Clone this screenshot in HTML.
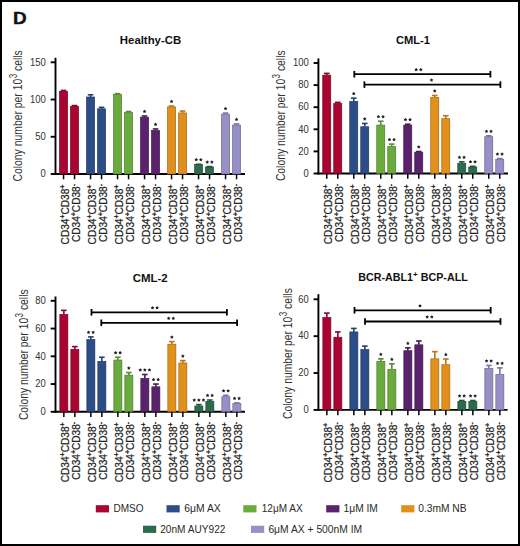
<!DOCTYPE html>
<html><head><meta charset="utf-8"><style>
html,body{margin:0;padding:0;background:#fff;}
svg{display:block;}
</style></head><body>
<svg width="520" height="546" viewBox="0 0 520 546">
<rect x="1" y="1" width="518" height="544" fill="#fff" stroke="#000" stroke-width="2"/>
<text x="0" y="0" transform="translate(13.1,24.3) scale(1.1,1)" font-family='"Liberation Sans", sans-serif' font-weight="bold" font-size="17.2" fill="#111" stroke="#111" stroke-width="0.4">D</text>
<text x="150.5" y="43.6" text-anchor="middle" font-family='"Liberation Sans", sans-serif' font-weight="bold" font-size="11" fill="#111" textLength="61.3" lengthAdjust="spacingAndGlyphs">Healthy-CB</text>
<text transform="translate(21.6,50.2) rotate(-90)" text-anchor="end" font-family='"Liberation Sans", sans-serif' font-size="13.6" fill="#333" textLength="131.3" lengthAdjust="spacingAndGlyphs">Colony number per 10<tspan dy="-4.8" dx="0.6" font-size="10.5">3</tspan><tspan dy="4.8"> cells</tspan></text>
<line x1="55.5" y1="57.8" x2="55.5" y2="174.95" stroke="#000" stroke-width="1.9"/>
<line x1="54.55" y1="174.0" x2="245" y2="174.0" stroke="#000" stroke-width="1.9"/>
<line x1="50.7" y1="174.00" x2="55.5" y2="174.00" stroke="#000" stroke-width="1.9"/>
<text x="45.90" y="177.30" text-anchor="end" font-family='"Liberation Sans", sans-serif' font-size="10.2" fill="#333" transform="translate(45.90,0) scale(0.93,1) translate(-45.90,0)">0</text>
<line x1="50.7" y1="136.77" x2="55.5" y2="136.77" stroke="#000" stroke-width="1.9"/>
<text x="45.90" y="140.07" text-anchor="end" font-family='"Liberation Sans", sans-serif' font-size="10.2" fill="#333" transform="translate(45.90,0) scale(0.93,1) translate(-45.90,0)">50</text>
<line x1="50.7" y1="99.53" x2="55.5" y2="99.53" stroke="#000" stroke-width="1.9"/>
<text x="45.90" y="102.83" text-anchor="end" font-family='"Liberation Sans", sans-serif' font-size="10.2" fill="#333" transform="translate(45.90,0) scale(0.93,1) translate(-45.90,0)">100</text>
<line x1="50.7" y1="62.30" x2="55.5" y2="62.30" stroke="#000" stroke-width="1.9"/>
<text x="45.90" y="65.60" text-anchor="end" font-family='"Liberation Sans", sans-serif' font-size="10.2" fill="#333" transform="translate(45.90,0) scale(0.93,1) translate(-45.90,0)">150</text>
<rect x="59.55" y="91.34" width="8.00" height="82.66" fill="#aa0430" stroke="#7a0222" stroke-width="0.7"/>
<line x1="63.55" y1="91.34" x2="63.55" y2="90.45" stroke="#8b0327" stroke-width="1.6"/>
<line x1="60.75" y1="90.45" x2="66.35" y2="90.45" stroke="#8b0327" stroke-width="1.6"/>
<line x1="63.55" y1="174.0" x2="63.55" y2="179.3" stroke="#000" stroke-width="1.5"/>
<text transform="translate(68.85,184.60) rotate(-90)" text-anchor="end" font-family='"Liberation Sans", sans-serif' font-size="10.1" fill="#222" stroke="#222" stroke-width="0.22">CD34<tspan dy="-3.7" font-size="7" font-weight="bold">+</tspan><tspan dy="3.7">CD38</tspan><tspan dy="-3.7" font-size="7" font-weight="bold">+</tspan></text>
<rect x="70.55" y="106.31" width="8.00" height="67.69" fill="#aa0430" stroke="#7a0222" stroke-width="0.7"/>
<line x1="71.75" y1="105.57" x2="77.35" y2="105.57" stroke="#8b0327" stroke-width="1.6"/>
<line x1="74.55" y1="174.0" x2="74.55" y2="179.3" stroke="#000" stroke-width="1.5"/>
<text transform="translate(79.85,184.00) rotate(-90)" text-anchor="end" font-family='"Liberation Sans", sans-serif' font-size="10.1" fill="#222" stroke="#222" stroke-width="0.22">CD34<tspan dy="-3.7" font-size="7" font-weight="bold">+</tspan><tspan dy="3.7">CD38</tspan><tspan dy="-3.7" font-size="7" font-weight="bold">-</tspan></text>
<rect x="86.55" y="97.00" width="8.00" height="77.00" fill="#2d4d89" stroke="#203762" stroke-width="0.7"/>
<line x1="90.55" y1="97.00" x2="90.55" y2="94.77" stroke="#243f70" stroke-width="1.6"/>
<line x1="87.75" y1="94.77" x2="93.35" y2="94.77" stroke="#243f70" stroke-width="1.6"/>
<line x1="90.55" y1="174.0" x2="90.55" y2="179.3" stroke="#000" stroke-width="1.5"/>
<text transform="translate(95.85,184.60) rotate(-90)" text-anchor="end" font-family='"Liberation Sans", sans-serif' font-size="10.1" fill="#222" stroke="#222" stroke-width="0.22">CD34<tspan dy="-3.7" font-size="7" font-weight="bold">+</tspan><tspan dy="3.7">CD38</tspan><tspan dy="-3.7" font-size="7" font-weight="bold">+</tspan></text>
<rect x="97.55" y="108.84" width="8.00" height="65.16" fill="#2d4d89" stroke="#203762" stroke-width="0.7"/>
<line x1="101.55" y1="108.84" x2="101.55" y2="107.35" stroke="#243f70" stroke-width="1.6"/>
<line x1="98.75" y1="107.35" x2="104.35" y2="107.35" stroke="#243f70" stroke-width="1.6"/>
<line x1="101.55" y1="174.0" x2="101.55" y2="179.3" stroke="#000" stroke-width="1.5"/>
<text transform="translate(106.85,184.00) rotate(-90)" text-anchor="end" font-family='"Liberation Sans", sans-serif' font-size="10.1" fill="#222" stroke="#222" stroke-width="0.22">CD34<tspan dy="-3.7" font-size="7" font-weight="bold">+</tspan><tspan dy="3.7">CD38</tspan><tspan dy="-3.7" font-size="7" font-weight="bold">-</tspan></text>
<rect x="113.55" y="94.40" width="8.00" height="79.60" fill="#6aab3e" stroke="#4c7b2c" stroke-width="0.7"/>
<line x1="114.75" y1="93.65" x2="120.35" y2="93.65" stroke="#568c32" stroke-width="1.6"/>
<line x1="117.55" y1="174.0" x2="117.55" y2="179.3" stroke="#000" stroke-width="1.5"/>
<text transform="translate(122.85,184.60) rotate(-90)" text-anchor="end" font-family='"Liberation Sans", sans-serif' font-size="10.1" fill="#222" stroke="#222" stroke-width="0.22">CD34<tspan dy="-3.7" font-size="7" font-weight="bold">+</tspan><tspan dy="3.7">CD38</tspan><tspan dy="-3.7" font-size="7" font-weight="bold">+</tspan></text>
<rect x="124.55" y="112.64" width="8.00" height="61.36" fill="#6aab3e" stroke="#4c7b2c" stroke-width="0.7"/>
<line x1="128.55" y1="112.64" x2="128.55" y2="111.52" stroke="#568c32" stroke-width="1.6"/>
<line x1="125.75" y1="111.52" x2="131.35" y2="111.52" stroke="#568c32" stroke-width="1.6"/>
<line x1="128.55" y1="174.0" x2="128.55" y2="179.3" stroke="#000" stroke-width="1.5"/>
<text transform="translate(133.85,184.00) rotate(-90)" text-anchor="end" font-family='"Liberation Sans", sans-serif' font-size="10.1" fill="#222" stroke="#222" stroke-width="0.22">CD34<tspan dy="-3.7" font-size="7" font-weight="bold">+</tspan><tspan dy="3.7">CD38</tspan><tspan dy="-3.7" font-size="7" font-weight="bold">-</tspan></text>
<rect x="140.55" y="117.18" width="8.00" height="56.82" fill="#5a216c" stroke="#40174d" stroke-width="0.7"/>
<line x1="144.55" y1="117.18" x2="144.55" y2="115.99" stroke="#491b58" stroke-width="1.6"/>
<line x1="141.75" y1="115.99" x2="147.35" y2="115.99" stroke="#491b58" stroke-width="1.6"/>
<line x1="144.55" y1="174.0" x2="144.55" y2="179.3" stroke="#000" stroke-width="1.5"/>
<text transform="translate(149.85,184.60) rotate(-90)" text-anchor="end" font-family='"Liberation Sans", sans-serif' font-size="10.1" fill="#222" stroke="#222" stroke-width="0.22">CD34<tspan dy="-3.7" font-size="7" font-weight="bold">+</tspan><tspan dy="3.7">CD38</tspan><tspan dy="-3.7" font-size="7" font-weight="bold">+</tspan></text>
<polygon points="144.55,109.64 145.20,110.59 146.31,110.92 145.61,111.83 145.64,112.99 144.55,112.60 143.46,112.99 143.49,111.83 142.79,110.92 143.90,110.59" fill="#222"/>
<rect x="151.55" y="130.44" width="8.00" height="43.56" fill="#5a216c" stroke="#40174d" stroke-width="0.7"/>
<line x1="155.55" y1="130.44" x2="155.55" y2="128.95" stroke="#491b58" stroke-width="1.6"/>
<line x1="152.75" y1="128.95" x2="158.35" y2="128.95" stroke="#491b58" stroke-width="1.6"/>
<line x1="155.55" y1="174.0" x2="155.55" y2="179.3" stroke="#000" stroke-width="1.5"/>
<text transform="translate(160.85,184.00) rotate(-90)" text-anchor="end" font-family='"Liberation Sans", sans-serif' font-size="10.1" fill="#222" stroke="#222" stroke-width="0.22">CD34<tspan dy="-3.7" font-size="7" font-weight="bold">+</tspan><tspan dy="3.7">CD38</tspan><tspan dy="-3.7" font-size="7" font-weight="bold">-</tspan></text>
<polygon points="155.55,122.60 156.20,123.55 157.31,123.88 156.61,124.79 156.64,125.94 155.55,125.56 154.46,125.94 154.49,124.79 153.79,123.88 154.90,123.55" fill="#222"/>
<rect x="167.55" y="106.91" width="8.00" height="67.09" fill="#e2901c" stroke="#a26714" stroke-width="0.7"/>
<line x1="171.55" y1="106.91" x2="171.55" y2="106.01" stroke="#b97616" stroke-width="1.6"/>
<line x1="168.75" y1="106.01" x2="174.35" y2="106.01" stroke="#b97616" stroke-width="1.6"/>
<line x1="171.55" y1="174.0" x2="171.55" y2="179.3" stroke="#000" stroke-width="1.5"/>
<text transform="translate(176.85,184.60) rotate(-90)" text-anchor="end" font-family='"Liberation Sans", sans-serif' font-size="10.1" fill="#222" stroke="#222" stroke-width="0.22">CD34<tspan dy="-3.7" font-size="7" font-weight="bold">+</tspan><tspan dy="3.7">CD38</tspan><tspan dy="-3.7" font-size="7" font-weight="bold">+</tspan></text>
<polygon points="171.55,99.66 172.20,100.61 173.31,100.94 172.61,101.85 172.64,103.01 171.55,102.62 170.46,103.01 170.49,101.85 169.79,100.94 170.90,100.61" fill="#222"/>
<rect x="178.55" y="112.94" width="8.00" height="61.06" fill="#e2901c" stroke="#a26714" stroke-width="0.7"/>
<line x1="182.55" y1="112.94" x2="182.55" y2="111.08" stroke="#b97616" stroke-width="1.6"/>
<line x1="179.75" y1="111.08" x2="185.35" y2="111.08" stroke="#b97616" stroke-width="1.6"/>
<line x1="182.55" y1="174.0" x2="182.55" y2="179.3" stroke="#000" stroke-width="1.5"/>
<text transform="translate(187.85,184.00) rotate(-90)" text-anchor="end" font-family='"Liberation Sans", sans-serif' font-size="10.1" fill="#222" stroke="#222" stroke-width="0.22">CD34<tspan dy="-3.7" font-size="7" font-weight="bold">+</tspan><tspan dy="3.7">CD38</tspan><tspan dy="-3.7" font-size="7" font-weight="bold">-</tspan></text>
<rect x="194.55" y="164.62" width="8.00" height="9.38" fill="#2d6b4f" stroke="#204d38" stroke-width="0.7"/>
<line x1="195.75" y1="164.24" x2="201.35" y2="164.24" stroke="#245740" stroke-width="1.6"/>
<line x1="198.55" y1="174.0" x2="198.55" y2="179.3" stroke="#000" stroke-width="1.5"/>
<text transform="translate(203.85,184.60) rotate(-90)" text-anchor="end" font-family='"Liberation Sans", sans-serif' font-size="10.1" fill="#222" stroke="#222" stroke-width="0.22">CD34<tspan dy="-3.7" font-size="7" font-weight="bold">+</tspan><tspan dy="3.7">CD38</tspan><tspan dy="-3.7" font-size="7" font-weight="bold">+</tspan></text>
<polygon points="196.25,157.89 196.90,158.85 198.01,159.17 197.31,160.09 197.34,161.24 196.25,160.85 195.16,161.24 195.19,160.09 194.49,159.17 195.60,158.85" fill="#222"/><polygon points="200.85,157.89 201.50,158.85 202.61,159.17 201.91,160.09 201.94,161.24 200.85,160.85 199.76,161.24 199.79,160.09 199.09,159.17 200.20,158.85" fill="#222"/>
<rect x="205.55" y="166.93" width="8.00" height="7.07" fill="#2d6b4f" stroke="#204d38" stroke-width="0.7"/>
<line x1="206.75" y1="166.55" x2="212.35" y2="166.55" stroke="#245740" stroke-width="1.6"/>
<line x1="209.55" y1="174.0" x2="209.55" y2="179.3" stroke="#000" stroke-width="1.5"/>
<text transform="translate(214.85,184.00) rotate(-90)" text-anchor="end" font-family='"Liberation Sans", sans-serif' font-size="10.1" fill="#222" stroke="#222" stroke-width="0.22">CD34<tspan dy="-3.7" font-size="7" font-weight="bold">+</tspan><tspan dy="3.7">CD38</tspan><tspan dy="-3.7" font-size="7" font-weight="bold">-</tspan></text>
<polygon points="207.25,160.20 207.90,161.16 209.01,161.48 208.31,162.40 208.34,163.55 207.25,163.16 206.16,163.55 206.19,162.40 205.49,161.48 206.60,161.16" fill="#222"/><polygon points="211.85,160.20 212.50,161.16 213.61,161.48 212.91,162.40 212.94,163.55 211.85,163.16 210.76,163.55 210.79,162.40 210.09,161.48 211.20,161.16" fill="#222"/>
<rect x="221.55" y="114.20" width="8.00" height="59.80" fill="#9790c6" stroke="#6c678e" stroke-width="0.7"/>
<line x1="225.55" y1="114.20" x2="225.55" y2="113.09" stroke="#7b76a2" stroke-width="1.6"/>
<line x1="222.75" y1="113.09" x2="228.35" y2="113.09" stroke="#7b76a2" stroke-width="1.6"/>
<line x1="225.55" y1="174.0" x2="225.55" y2="179.3" stroke="#000" stroke-width="1.5"/>
<text transform="translate(230.85,184.60) rotate(-90)" text-anchor="end" font-family='"Liberation Sans", sans-serif' font-size="10.1" fill="#222" stroke="#222" stroke-width="0.22">CD34<tspan dy="-3.7" font-size="7" font-weight="bold">+</tspan><tspan dy="3.7">CD38</tspan><tspan dy="-3.7" font-size="7" font-weight="bold">+</tspan></text>
<polygon points="225.55,106.74 226.20,107.69 227.31,108.01 226.61,108.93 226.64,110.08 225.55,109.70 224.46,110.08 224.49,108.93 223.79,108.01 224.90,107.69" fill="#222"/>
<rect x="232.55" y="125.08" width="8.00" height="48.92" fill="#9790c6" stroke="#6c678e" stroke-width="0.7"/>
<line x1="236.55" y1="125.08" x2="236.55" y2="123.96" stroke="#7b76a2" stroke-width="1.6"/>
<line x1="233.75" y1="123.96" x2="239.35" y2="123.96" stroke="#7b76a2" stroke-width="1.6"/>
<line x1="236.55" y1="174.0" x2="236.55" y2="179.3" stroke="#000" stroke-width="1.5"/>
<text transform="translate(241.85,184.00) rotate(-90)" text-anchor="end" font-family='"Liberation Sans", sans-serif' font-size="10.1" fill="#222" stroke="#222" stroke-width="0.22">CD34<tspan dy="-3.7" font-size="7" font-weight="bold">+</tspan><tspan dy="3.7">CD38</tspan><tspan dy="-3.7" font-size="7" font-weight="bold">-</tspan></text>
<polygon points="236.55,117.61 237.20,118.56 238.31,118.89 237.61,119.80 237.64,120.96 236.55,120.57 235.46,120.96 235.49,119.80 234.79,118.89 235.90,118.56" fill="#222"/>
<text x="413" y="43.8" text-anchor="middle" font-family='"Liberation Sans", sans-serif' font-weight="bold" font-size="11" fill="#111" textLength="34.099999999999994" lengthAdjust="spacingAndGlyphs">CML-1</text>
<text transform="translate(284.6,50.4) rotate(-90)" text-anchor="end" font-family='"Liberation Sans", sans-serif' font-size="13.6" fill="#333" textLength="130.7" lengthAdjust="spacingAndGlyphs">Colony number per 10<tspan dy="-4.8" dx="0.6" font-size="10.5">3</tspan><tspan dy="4.8"> cells</tspan></text>
<line x1="318.4" y1="58.4" x2="318.4" y2="174.45" stroke="#000" stroke-width="1.9"/>
<line x1="317.45" y1="173.5" x2="508" y2="173.5" stroke="#000" stroke-width="1.9"/>
<line x1="313.59999999999997" y1="173.50" x2="318.4" y2="173.50" stroke="#000" stroke-width="1.9"/>
<text x="308.80" y="176.80" text-anchor="end" font-family='"Liberation Sans", sans-serif' font-size="10.2" fill="#333" transform="translate(308.80,0) scale(0.93,1) translate(-308.80,0)">0</text>
<line x1="313.59999999999997" y1="151.40" x2="318.4" y2="151.40" stroke="#000" stroke-width="1.9"/>
<text x="308.80" y="154.70" text-anchor="end" font-family='"Liberation Sans", sans-serif' font-size="10.2" fill="#333" transform="translate(308.80,0) scale(0.93,1) translate(-308.80,0)">20</text>
<line x1="313.59999999999997" y1="129.30" x2="318.4" y2="129.30" stroke="#000" stroke-width="1.9"/>
<text x="308.80" y="132.60" text-anchor="end" font-family='"Liberation Sans", sans-serif' font-size="10.2" fill="#333" transform="translate(308.80,0) scale(0.93,1) translate(-308.80,0)">40</text>
<line x1="313.59999999999997" y1="107.20" x2="318.4" y2="107.20" stroke="#000" stroke-width="1.9"/>
<text x="308.80" y="110.50" text-anchor="end" font-family='"Liberation Sans", sans-serif' font-size="10.2" fill="#333" transform="translate(308.80,0) scale(0.93,1) translate(-308.80,0)">60</text>
<line x1="313.59999999999997" y1="85.10" x2="318.4" y2="85.10" stroke="#000" stroke-width="1.9"/>
<text x="308.80" y="88.40" text-anchor="end" font-family='"Liberation Sans", sans-serif' font-size="10.2" fill="#333" transform="translate(308.80,0) scale(0.93,1) translate(-308.80,0)">80</text>
<line x1="313.59999999999997" y1="63.00" x2="318.4" y2="63.00" stroke="#000" stroke-width="1.9"/>
<text x="308.80" y="66.30" text-anchor="end" font-family='"Liberation Sans", sans-serif' font-size="10.2" fill="#333" transform="translate(308.80,0) scale(0.93,1) translate(-308.80,0)">100</text>
<rect x="322.75" y="75.16" width="8.00" height="98.34" fill="#aa0430" stroke="#7a0222" stroke-width="0.7"/>
<line x1="326.75" y1="75.16" x2="326.75" y2="73.39" stroke="#8b0327" stroke-width="1.6"/>
<line x1="323.95" y1="73.39" x2="329.55" y2="73.39" stroke="#8b0327" stroke-width="1.6"/>
<line x1="326.75" y1="173.5" x2="326.75" y2="178.8" stroke="#000" stroke-width="1.5"/>
<text transform="translate(332.05,184.50) rotate(-90)" text-anchor="end" font-family='"Liberation Sans", sans-serif' font-size="10.1" fill="#222" stroke="#222" stroke-width="0.22">CD34<tspan dy="-3.7" font-size="7" font-weight="bold">+</tspan><tspan dy="3.7">CD38</tspan><tspan dy="-3.7" font-size="7" font-weight="bold">+</tspan></text>
<rect x="333.75" y="103.44" width="8.00" height="70.06" fill="#aa0430" stroke="#7a0222" stroke-width="0.7"/>
<line x1="337.75" y1="103.44" x2="337.75" y2="102.34" stroke="#8b0327" stroke-width="1.6"/>
<line x1="334.95" y1="102.34" x2="340.55" y2="102.34" stroke="#8b0327" stroke-width="1.6"/>
<line x1="337.75" y1="173.5" x2="337.75" y2="178.8" stroke="#000" stroke-width="1.5"/>
<text transform="translate(343.05,183.90) rotate(-90)" text-anchor="end" font-family='"Liberation Sans", sans-serif' font-size="10.1" fill="#222" stroke="#222" stroke-width="0.22">CD34<tspan dy="-3.7" font-size="7" font-weight="bold">+</tspan><tspan dy="3.7">CD38</tspan><tspan dy="-3.7" font-size="7" font-weight="bold">-</tspan></text>
<rect x="349.75" y="101.45" width="8.00" height="72.05" fill="#2d4d89" stroke="#203762" stroke-width="0.7"/>
<line x1="353.75" y1="101.45" x2="353.75" y2="98.14" stroke="#243f70" stroke-width="1.6"/>
<line x1="350.95" y1="98.14" x2="356.55" y2="98.14" stroke="#243f70" stroke-width="1.6"/>
<line x1="353.75" y1="173.5" x2="353.75" y2="178.8" stroke="#000" stroke-width="1.5"/>
<text transform="translate(359.05,184.50) rotate(-90)" text-anchor="end" font-family='"Liberation Sans", sans-serif' font-size="10.1" fill="#222" stroke="#222" stroke-width="0.22">CD34<tspan dy="-3.7" font-size="7" font-weight="bold">+</tspan><tspan dy="3.7">CD38</tspan><tspan dy="-3.7" font-size="7" font-weight="bold">+</tspan></text>
<polygon points="353.75,91.79 354.40,92.74 355.51,93.07 354.81,93.98 354.84,95.14 353.75,94.75 352.66,95.14 352.69,93.98 351.99,93.07 353.10,92.74" fill="#222"/>
<rect x="360.75" y="126.76" width="8.00" height="46.74" fill="#2d4d89" stroke="#203762" stroke-width="0.7"/>
<line x1="364.75" y1="126.76" x2="364.75" y2="123.44" stroke="#243f70" stroke-width="1.6"/>
<line x1="361.95" y1="123.44" x2="367.55" y2="123.44" stroke="#243f70" stroke-width="1.6"/>
<line x1="364.75" y1="173.5" x2="364.75" y2="178.8" stroke="#000" stroke-width="1.5"/>
<text transform="translate(370.05,183.90) rotate(-90)" text-anchor="end" font-family='"Liberation Sans", sans-serif' font-size="10.1" fill="#222" stroke="#222" stroke-width="0.22">CD34<tspan dy="-3.7" font-size="7" font-weight="bold">+</tspan><tspan dy="3.7">CD38</tspan><tspan dy="-3.7" font-size="7" font-weight="bold">-</tspan></text>
<polygon points="364.75,117.09 365.40,118.05 366.51,118.37 365.81,119.29 365.84,120.44 364.75,120.05 363.66,120.44 363.69,119.29 362.99,118.37 364.10,118.05" fill="#222"/>
<rect x="376.75" y="125.10" width="8.00" height="48.40" fill="#6aab3e" stroke="#4c7b2c" stroke-width="0.7"/>
<line x1="380.75" y1="125.10" x2="380.75" y2="121.23" stroke="#568c32" stroke-width="1.6"/>
<line x1="377.95" y1="121.23" x2="383.55" y2="121.23" stroke="#568c32" stroke-width="1.6"/>
<line x1="380.75" y1="173.5" x2="380.75" y2="178.8" stroke="#000" stroke-width="1.5"/>
<text transform="translate(386.05,184.50) rotate(-90)" text-anchor="end" font-family='"Liberation Sans", sans-serif' font-size="10.1" fill="#222" stroke="#222" stroke-width="0.22">CD34<tspan dy="-3.7" font-size="7" font-weight="bold">+</tspan><tspan dy="3.7">CD38</tspan><tspan dy="-3.7" font-size="7" font-weight="bold">+</tspan></text>
<polygon points="378.45,114.88 379.10,115.84 380.21,116.16 379.51,117.08 379.54,118.23 378.45,117.84 377.36,118.23 377.39,117.08 376.69,116.16 377.80,115.84" fill="#222"/><polygon points="383.05,114.88 383.70,115.84 384.81,116.16 384.11,117.08 384.14,118.23 383.05,117.84 381.96,118.23 381.99,117.08 381.29,116.16 382.40,115.84" fill="#222"/>
<rect x="387.75" y="146.65" width="8.00" height="26.85" fill="#6aab3e" stroke="#4c7b2c" stroke-width="0.7"/>
<line x1="391.75" y1="146.65" x2="391.75" y2="144.11" stroke="#568c32" stroke-width="1.6"/>
<line x1="388.95" y1="144.11" x2="394.55" y2="144.11" stroke="#568c32" stroke-width="1.6"/>
<line x1="391.75" y1="173.5" x2="391.75" y2="178.8" stroke="#000" stroke-width="1.5"/>
<text transform="translate(397.05,183.90) rotate(-90)" text-anchor="end" font-family='"Liberation Sans", sans-serif' font-size="10.1" fill="#222" stroke="#222" stroke-width="0.22">CD34<tspan dy="-3.7" font-size="7" font-weight="bold">+</tspan><tspan dy="3.7">CD38</tspan><tspan dy="-3.7" font-size="7" font-weight="bold">-</tspan></text>
<polygon points="389.45,137.76 390.10,138.71 391.21,139.04 390.51,139.95 390.54,141.10 389.45,140.72 388.36,141.10 388.39,139.95 387.69,139.04 388.80,138.71" fill="#222"/><polygon points="394.05,137.76 394.70,138.71 395.81,139.04 395.11,139.95 395.14,141.10 394.05,140.72 392.96,141.10 392.99,139.95 392.29,139.04 393.40,138.71" fill="#222"/>
<rect x="403.75" y="125.10" width="8.00" height="48.40" fill="#5a216c" stroke="#40174d" stroke-width="0.7"/>
<line x1="407.75" y1="125.10" x2="407.75" y2="124.22" stroke="#491b58" stroke-width="1.6"/>
<line x1="404.95" y1="124.22" x2="410.55" y2="124.22" stroke="#491b58" stroke-width="1.6"/>
<line x1="407.75" y1="173.5" x2="407.75" y2="178.8" stroke="#000" stroke-width="1.5"/>
<text transform="translate(413.05,184.50) rotate(-90)" text-anchor="end" font-family='"Liberation Sans", sans-serif' font-size="10.1" fill="#222" stroke="#222" stroke-width="0.22">CD34<tspan dy="-3.7" font-size="7" font-weight="bold">+</tspan><tspan dy="3.7">CD38</tspan><tspan dy="-3.7" font-size="7" font-weight="bold">+</tspan></text>
<polygon points="405.45,117.87 406.10,118.82 407.21,119.15 406.51,120.06 406.54,121.21 405.45,120.83 404.36,121.21 404.39,120.06 403.69,119.15 404.80,118.82" fill="#222"/><polygon points="410.05,117.87 410.70,118.82 411.81,119.15 411.11,120.06 411.14,121.21 410.05,120.83 408.96,121.21 408.99,120.06 408.29,119.15 409.40,118.82" fill="#222"/>
<rect x="414.75" y="152.17" width="8.00" height="21.33" fill="#5a216c" stroke="#40174d" stroke-width="0.7"/>
<line x1="415.95" y1="151.51" x2="421.55" y2="151.51" stroke="#491b58" stroke-width="1.6"/>
<line x1="418.75" y1="173.5" x2="418.75" y2="178.8" stroke="#000" stroke-width="1.5"/>
<text transform="translate(424.05,183.90) rotate(-90)" text-anchor="end" font-family='"Liberation Sans", sans-serif' font-size="10.1" fill="#222" stroke="#222" stroke-width="0.22">CD34<tspan dy="-3.7" font-size="7" font-weight="bold">+</tspan><tspan dy="3.7">CD38</tspan><tspan dy="-3.7" font-size="7" font-weight="bold">-</tspan></text>
<polygon points="418.75,145.16 419.40,146.11 420.51,146.44 419.81,147.35 419.84,148.51 418.75,148.12 417.66,148.51 417.69,147.35 416.99,146.44 418.10,146.11" fill="#222"/>
<rect x="430.75" y="97.48" width="8.00" height="76.02" fill="#e2901c" stroke="#a26714" stroke-width="0.7"/>
<line x1="434.75" y1="97.48" x2="434.75" y2="95.49" stroke="#b97616" stroke-width="1.6"/>
<line x1="431.95" y1="95.49" x2="437.55" y2="95.49" stroke="#b97616" stroke-width="1.6"/>
<line x1="434.75" y1="173.5" x2="434.75" y2="178.8" stroke="#000" stroke-width="1.5"/>
<text transform="translate(440.05,184.50) rotate(-90)" text-anchor="end" font-family='"Liberation Sans", sans-serif' font-size="10.1" fill="#222" stroke="#222" stroke-width="0.22">CD34<tspan dy="-3.7" font-size="7" font-weight="bold">+</tspan><tspan dy="3.7">CD38</tspan><tspan dy="-3.7" font-size="7" font-weight="bold">+</tspan></text>
<polygon points="434.75,89.14 435.40,90.09 436.51,90.42 435.81,91.33 435.84,92.48 434.75,92.10 433.66,92.48 433.69,91.33 432.99,90.42 434.10,90.09" fill="#222"/>
<rect x="441.75" y="118.69" width="8.00" height="54.81" fill="#e2901c" stroke="#a26714" stroke-width="0.7"/>
<line x1="445.75" y1="118.69" x2="445.75" y2="115.71" stroke="#b97616" stroke-width="1.6"/>
<line x1="442.95" y1="115.71" x2="448.55" y2="115.71" stroke="#b97616" stroke-width="1.6"/>
<line x1="445.75" y1="173.5" x2="445.75" y2="178.8" stroke="#000" stroke-width="1.5"/>
<text transform="translate(451.05,183.90) rotate(-90)" text-anchor="end" font-family='"Liberation Sans", sans-serif' font-size="10.1" fill="#222" stroke="#222" stroke-width="0.22">CD34<tspan dy="-3.7" font-size="7" font-weight="bold">+</tspan><tspan dy="3.7">CD38</tspan><tspan dy="-3.7" font-size="7" font-weight="bold">-</tspan></text>
<rect x="457.75" y="163.22" width="8.00" height="10.28" fill="#2d6b4f" stroke="#204d38" stroke-width="0.7"/>
<line x1="461.75" y1="163.22" x2="461.75" y2="161.79" stroke="#245740" stroke-width="1.6"/>
<line x1="458.95" y1="161.79" x2="464.55" y2="161.79" stroke="#245740" stroke-width="1.6"/>
<line x1="461.75" y1="173.5" x2="461.75" y2="178.8" stroke="#000" stroke-width="1.5"/>
<text transform="translate(467.05,184.50) rotate(-90)" text-anchor="end" font-family='"Liberation Sans", sans-serif' font-size="10.1" fill="#222" stroke="#222" stroke-width="0.22">CD34<tspan dy="-3.7" font-size="7" font-weight="bold">+</tspan><tspan dy="3.7">CD38</tspan><tspan dy="-3.7" font-size="7" font-weight="bold">+</tspan></text>
<polygon points="459.45,155.44 460.10,156.39 461.21,156.72 460.51,157.63 460.54,158.78 459.45,158.40 458.36,158.78 458.39,157.63 457.69,156.72 458.80,156.39" fill="#222"/><polygon points="464.05,155.44 464.70,156.39 465.81,156.72 465.11,157.63 465.14,158.78 464.05,158.40 462.96,158.78 462.99,157.63 462.29,156.72 463.40,156.39" fill="#222"/>
<rect x="468.75" y="166.98" width="8.00" height="6.52" fill="#2d6b4f" stroke="#204d38" stroke-width="0.7"/>
<line x1="469.95" y1="166.32" x2="475.55" y2="166.32" stroke="#245740" stroke-width="1.6"/>
<line x1="472.75" y1="173.5" x2="472.75" y2="178.8" stroke="#000" stroke-width="1.5"/>
<text transform="translate(478.05,183.90) rotate(-90)" text-anchor="end" font-family='"Liberation Sans", sans-serif' font-size="10.1" fill="#222" stroke="#222" stroke-width="0.22">CD34<tspan dy="-3.7" font-size="7" font-weight="bold">+</tspan><tspan dy="3.7">CD38</tspan><tspan dy="-3.7" font-size="7" font-weight="bold">-</tspan></text>
<polygon points="470.45,159.97 471.10,160.92 472.21,161.25 471.51,162.16 471.54,163.31 470.45,162.93 469.36,163.31 469.39,162.16 468.69,161.25 469.80,160.92" fill="#222"/><polygon points="475.05,159.97 475.70,160.92 476.81,161.25 476.11,162.16 476.14,163.31 475.05,162.93 473.96,163.31 473.99,162.16 473.29,161.25 474.40,160.92" fill="#222"/>
<rect x="484.75" y="136.70" width="8.00" height="36.80" fill="#9790c6" stroke="#6c678e" stroke-width="0.7"/>
<line x1="488.75" y1="136.70" x2="488.75" y2="135.82" stroke="#7b76a2" stroke-width="1.6"/>
<line x1="485.95" y1="135.82" x2="491.55" y2="135.82" stroke="#7b76a2" stroke-width="1.6"/>
<line x1="488.75" y1="173.5" x2="488.75" y2="178.8" stroke="#000" stroke-width="1.5"/>
<text transform="translate(494.05,184.50) rotate(-90)" text-anchor="end" font-family='"Liberation Sans", sans-serif' font-size="10.1" fill="#222" stroke="#222" stroke-width="0.22">CD34<tspan dy="-3.7" font-size="7" font-weight="bold">+</tspan><tspan dy="3.7">CD38</tspan><tspan dy="-3.7" font-size="7" font-weight="bold">+</tspan></text>
<polygon points="486.45,129.47 487.10,130.42 488.21,130.75 487.51,131.66 487.54,132.82 486.45,132.43 485.36,132.82 485.39,131.66 484.69,130.75 485.80,130.42" fill="#222"/><polygon points="491.05,129.47 491.70,130.42 492.81,130.75 492.11,131.66 492.14,132.82 491.05,132.43 489.96,132.82 489.99,131.66 489.29,130.75 490.40,130.42" fill="#222"/>
<rect x="495.75" y="159.25" width="8.00" height="14.25" fill="#9790c6" stroke="#6c678e" stroke-width="0.7"/>
<line x1="496.95" y1="158.58" x2="502.55" y2="158.58" stroke="#7b76a2" stroke-width="1.6"/>
<line x1="499.75" y1="173.5" x2="499.75" y2="178.8" stroke="#000" stroke-width="1.5"/>
<text transform="translate(505.05,183.90) rotate(-90)" text-anchor="end" font-family='"Liberation Sans", sans-serif' font-size="10.1" fill="#222" stroke="#222" stroke-width="0.22">CD34<tspan dy="-3.7" font-size="7" font-weight="bold">+</tspan><tspan dy="3.7">CD38</tspan><tspan dy="-3.7" font-size="7" font-weight="bold">-</tspan></text>
<polygon points="497.45,152.23 498.10,153.18 499.21,153.51 498.51,154.43 498.54,155.58 497.45,155.19 496.36,155.58 496.39,154.43 495.69,153.51 496.80,153.18" fill="#222"/><polygon points="502.05,152.23 502.70,153.18 503.81,153.51 503.11,154.43 503.14,155.58 502.05,155.19 500.96,155.58 500.99,154.43 500.29,153.51 501.40,153.18" fill="#222"/>
<line x1="354.3" y1="74.2" x2="490.4" y2="74.2" stroke="#000" stroke-width="1.8"/>
<line x1="354.3" y1="70.9" x2="354.3" y2="77.5" stroke="#000" stroke-width="1.8"/>
<line x1="490.4" y1="70.9" x2="490.4" y2="77.5" stroke="#000" stroke-width="1.8"/>
<polygon points="416.20,67.85 416.85,68.80 417.96,69.13 417.26,70.04 417.29,71.20 416.20,70.81 415.11,71.20 415.14,70.04 414.44,69.13 415.55,68.80" fill="#222"/><polygon points="420.80,67.85 421.45,68.80 422.56,69.13 421.86,70.04 421.89,71.20 420.80,70.81 419.71,71.20 419.74,70.04 419.04,69.13 420.15,68.80" fill="#222"/>
<line x1="364.4" y1="84.6" x2="500.4" y2="84.6" stroke="#000" stroke-width="1.8"/>
<line x1="364.4" y1="81.3" x2="364.4" y2="87.89999999999999" stroke="#000" stroke-width="1.8"/>
<line x1="500.4" y1="81.3" x2="500.4" y2="87.89999999999999" stroke="#000" stroke-width="1.8"/>
<polygon points="431.50,78.25 432.15,79.20 433.26,79.53 432.56,80.44 432.59,81.60 431.50,81.21 430.41,81.60 430.44,80.44 429.74,79.53 430.85,79.20" fill="#222"/>
<text x="150.2" y="281.8" text-anchor="middle" font-family='"Liberation Sans", sans-serif' font-weight="bold" font-size="11" fill="#111" textLength="35.0" lengthAdjust="spacingAndGlyphs">CML-2</text>
<text transform="translate(27.6,289.4) rotate(-90)" text-anchor="end" font-family='"Liberation Sans", sans-serif' font-size="13.6" fill="#333" textLength="130.7" lengthAdjust="spacingAndGlyphs">Colony number per 10<tspan dy="-4.8" dx="0.6" font-size="10.5">3</tspan><tspan dy="4.8"> cells</tspan></text>
<line x1="55.5" y1="296.5" x2="55.5" y2="412.75" stroke="#000" stroke-width="1.9"/>
<line x1="54.55" y1="411.8" x2="245" y2="411.8" stroke="#000" stroke-width="1.9"/>
<line x1="50.7" y1="411.80" x2="55.5" y2="411.80" stroke="#000" stroke-width="1.9"/>
<text x="45.90" y="415.10" text-anchor="end" font-family='"Liberation Sans", sans-serif' font-size="10.2" fill="#333" transform="translate(45.90,0) scale(0.93,1) translate(-45.90,0)">0</text>
<line x1="50.7" y1="384.05" x2="55.5" y2="384.05" stroke="#000" stroke-width="1.9"/>
<text x="45.90" y="387.35" text-anchor="end" font-family='"Liberation Sans", sans-serif' font-size="10.2" fill="#333" transform="translate(45.90,0) scale(0.93,1) translate(-45.90,0)">20</text>
<line x1="50.7" y1="356.30" x2="55.5" y2="356.30" stroke="#000" stroke-width="1.9"/>
<text x="45.90" y="359.60" text-anchor="end" font-family='"Liberation Sans", sans-serif' font-size="10.2" fill="#333" transform="translate(45.90,0) scale(0.93,1) translate(-45.90,0)">40</text>
<line x1="50.7" y1="328.55" x2="55.5" y2="328.55" stroke="#000" stroke-width="1.9"/>
<text x="45.90" y="331.85" text-anchor="end" font-family='"Liberation Sans", sans-serif' font-size="10.2" fill="#333" transform="translate(45.90,0) scale(0.93,1) translate(-45.90,0)">60</text>
<line x1="50.7" y1="300.80" x2="55.5" y2="300.80" stroke="#000" stroke-width="1.9"/>
<text x="45.90" y="304.10" text-anchor="end" font-family='"Liberation Sans", sans-serif' font-size="10.2" fill="#333" transform="translate(45.90,0) scale(0.93,1) translate(-45.90,0)">80</text>
<rect x="59.85" y="314.54" width="8.00" height="97.26" fill="#aa0430" stroke="#7a0222" stroke-width="0.7"/>
<line x1="63.85" y1="314.54" x2="63.85" y2="310.37" stroke="#8b0327" stroke-width="1.6"/>
<line x1="61.05" y1="310.37" x2="66.65" y2="310.37" stroke="#8b0327" stroke-width="1.6"/>
<line x1="63.85" y1="411.8" x2="63.85" y2="417.1" stroke="#000" stroke-width="1.5"/>
<text transform="translate(69.15,422.40) rotate(-90)" text-anchor="end" font-family='"Liberation Sans", sans-serif' font-size="10.1" fill="#222" stroke="#222" stroke-width="0.22">CD34<tspan dy="-3.7" font-size="7" font-weight="bold">+</tspan><tspan dy="3.7">CD38</tspan><tspan dy="-3.7" font-size="7" font-weight="bold">+</tspan></text>
<rect x="70.85" y="349.36" width="8.00" height="62.44" fill="#aa0430" stroke="#7a0222" stroke-width="0.7"/>
<line x1="74.85" y1="349.36" x2="74.85" y2="346.59" stroke="#8b0327" stroke-width="1.6"/>
<line x1="72.05" y1="346.59" x2="77.65" y2="346.59" stroke="#8b0327" stroke-width="1.6"/>
<line x1="74.85" y1="411.8" x2="74.85" y2="417.1" stroke="#000" stroke-width="1.5"/>
<text transform="translate(80.15,421.80) rotate(-90)" text-anchor="end" font-family='"Liberation Sans", sans-serif' font-size="10.1" fill="#222" stroke="#222" stroke-width="0.22">CD34<tspan dy="-3.7" font-size="7" font-weight="bold">+</tspan><tspan dy="3.7">CD38</tspan><tspan dy="-3.7" font-size="7" font-weight="bold">-</tspan></text>
<rect x="86.85" y="339.65" width="8.00" height="72.15" fill="#2d4d89" stroke="#203762" stroke-width="0.7"/>
<line x1="90.85" y1="339.65" x2="90.85" y2="336.88" stroke="#243f70" stroke-width="1.6"/>
<line x1="88.05" y1="336.88" x2="93.65" y2="336.88" stroke="#243f70" stroke-width="1.6"/>
<line x1="90.85" y1="411.8" x2="90.85" y2="417.1" stroke="#000" stroke-width="1.5"/>
<text transform="translate(96.15,422.40) rotate(-90)" text-anchor="end" font-family='"Liberation Sans", sans-serif' font-size="10.1" fill="#222" stroke="#222" stroke-width="0.22">CD34<tspan dy="-3.7" font-size="7" font-weight="bold">+</tspan><tspan dy="3.7">CD38</tspan><tspan dy="-3.7" font-size="7" font-weight="bold">+</tspan></text>
<polygon points="88.55,330.53 89.20,331.48 90.31,331.80 89.61,332.72 89.64,333.87 88.55,333.49 87.46,333.87 87.49,332.72 86.79,331.80 87.90,331.48" fill="#222"/><polygon points="93.15,330.53 93.80,331.48 94.91,331.80 94.21,332.72 94.24,333.87 93.15,333.49 92.06,333.87 92.09,332.72 91.39,331.80 92.50,331.48" fill="#222"/>
<rect x="97.85" y="361.43" width="8.00" height="50.37" fill="#2d4d89" stroke="#203762" stroke-width="0.7"/>
<line x1="101.85" y1="361.43" x2="101.85" y2="357.27" stroke="#243f70" stroke-width="1.6"/>
<line x1="99.05" y1="357.27" x2="104.65" y2="357.27" stroke="#243f70" stroke-width="1.6"/>
<line x1="101.85" y1="411.8" x2="101.85" y2="417.1" stroke="#000" stroke-width="1.5"/>
<text transform="translate(107.15,421.80) rotate(-90)" text-anchor="end" font-family='"Liberation Sans", sans-serif' font-size="10.1" fill="#222" stroke="#222" stroke-width="0.22">CD34<tspan dy="-3.7" font-size="7" font-weight="bold">+</tspan><tspan dy="3.7">CD38</tspan><tspan dy="-3.7" font-size="7" font-weight="bold">-</tspan></text>
<rect x="113.85" y="360.05" width="8.00" height="51.75" fill="#6aab3e" stroke="#4c7b2c" stroke-width="0.7"/>
<line x1="117.85" y1="360.05" x2="117.85" y2="357.27" stroke="#568c32" stroke-width="1.6"/>
<line x1="115.05" y1="357.27" x2="120.65" y2="357.27" stroke="#568c32" stroke-width="1.6"/>
<line x1="117.85" y1="411.8" x2="117.85" y2="417.1" stroke="#000" stroke-width="1.5"/>
<text transform="translate(123.15,422.40) rotate(-90)" text-anchor="end" font-family='"Liberation Sans", sans-serif' font-size="10.1" fill="#222" stroke="#222" stroke-width="0.22">CD34<tspan dy="-3.7" font-size="7" font-weight="bold">+</tspan><tspan dy="3.7">CD38</tspan><tspan dy="-3.7" font-size="7" font-weight="bold">+</tspan></text>
<polygon points="115.55,350.92 116.20,351.87 117.31,352.20 116.61,353.11 116.64,354.27 115.55,353.88 114.46,354.27 114.49,353.11 113.79,352.20 114.90,351.87" fill="#222"/><polygon points="120.15,350.92 120.80,351.87 121.91,352.20 121.21,353.11 121.24,354.27 120.15,353.88 119.06,354.27 119.09,353.11 118.39,352.20 119.50,351.87" fill="#222"/>
<rect x="124.85" y="375.17" width="8.00" height="36.63" fill="#6aab3e" stroke="#4c7b2c" stroke-width="0.7"/>
<line x1="128.85" y1="375.17" x2="128.85" y2="372.53" stroke="#568c32" stroke-width="1.6"/>
<line x1="126.05" y1="372.53" x2="131.65" y2="372.53" stroke="#568c32" stroke-width="1.6"/>
<line x1="128.85" y1="411.8" x2="128.85" y2="417.1" stroke="#000" stroke-width="1.5"/>
<text transform="translate(134.15,421.80) rotate(-90)" text-anchor="end" font-family='"Liberation Sans", sans-serif' font-size="10.1" fill="#222" stroke="#222" stroke-width="0.22">CD34<tspan dy="-3.7" font-size="7" font-weight="bold">+</tspan><tspan dy="3.7">CD38</tspan><tspan dy="-3.7" font-size="7" font-weight="bold">-</tspan></text>
<polygon points="128.85,366.18 129.50,367.14 130.61,367.46 129.91,368.38 129.94,369.53 128.85,369.14 127.76,369.53 127.79,368.38 127.09,367.46 128.20,367.14" fill="#222"/>
<rect x="140.85" y="378.50" width="8.00" height="33.30" fill="#5a216c" stroke="#40174d" stroke-width="0.7"/>
<line x1="144.85" y1="378.50" x2="144.85" y2="374.48" stroke="#491b58" stroke-width="1.6"/>
<line x1="142.05" y1="374.48" x2="147.65" y2="374.48" stroke="#491b58" stroke-width="1.6"/>
<line x1="144.85" y1="411.8" x2="144.85" y2="417.1" stroke="#000" stroke-width="1.5"/>
<text transform="translate(150.15,422.40) rotate(-90)" text-anchor="end" font-family='"Liberation Sans", sans-serif' font-size="10.1" fill="#222" stroke="#222" stroke-width="0.22">CD34<tspan dy="-3.7" font-size="7" font-weight="bold">+</tspan><tspan dy="3.7">CD38</tspan><tspan dy="-3.7" font-size="7" font-weight="bold">+</tspan></text>
<polygon points="140.25,368.13 140.90,369.08 142.01,369.40 141.31,370.32 141.34,371.47 140.25,371.09 139.16,371.47 139.19,370.32 138.49,369.40 139.60,369.08" fill="#222"/><polygon points="144.85,368.13 145.50,369.08 146.61,369.40 145.91,370.32 145.94,371.47 144.85,371.09 143.76,371.47 143.79,370.32 143.09,369.40 144.20,369.08" fill="#222"/><polygon points="149.45,368.13 150.10,369.08 151.21,369.40 150.51,370.32 150.54,371.47 149.45,371.09 148.36,371.47 148.39,370.32 147.69,369.40 148.80,369.08" fill="#222"/>
<rect x="151.85" y="386.82" width="8.00" height="24.98" fill="#5a216c" stroke="#40174d" stroke-width="0.7"/>
<line x1="155.85" y1="386.82" x2="155.85" y2="384.05" stroke="#491b58" stroke-width="1.6"/>
<line x1="153.05" y1="384.05" x2="158.65" y2="384.05" stroke="#491b58" stroke-width="1.6"/>
<line x1="155.85" y1="411.8" x2="155.85" y2="417.1" stroke="#000" stroke-width="1.5"/>
<text transform="translate(161.15,421.80) rotate(-90)" text-anchor="end" font-family='"Liberation Sans", sans-serif' font-size="10.1" fill="#222" stroke="#222" stroke-width="0.22">CD34<tspan dy="-3.7" font-size="7" font-weight="bold">+</tspan><tspan dy="3.7">CD38</tspan><tspan dy="-3.7" font-size="7" font-weight="bold">-</tspan></text>
<polygon points="153.55,377.70 154.20,378.65 155.31,378.98 154.61,379.89 154.64,381.05 153.55,380.66 152.46,381.05 152.49,379.89 151.79,378.98 152.90,378.65" fill="#222"/><polygon points="158.15,377.70 158.80,378.65 159.91,378.98 159.21,379.89 159.24,381.05 158.15,380.66 157.06,381.05 157.09,379.89 156.39,378.98 157.50,378.65" fill="#222"/>
<rect x="167.85" y="344.23" width="8.00" height="67.57" fill="#e2901c" stroke="#a26714" stroke-width="0.7"/>
<line x1="171.85" y1="344.23" x2="171.85" y2="341.59" stroke="#b97616" stroke-width="1.6"/>
<line x1="169.05" y1="341.59" x2="174.65" y2="341.59" stroke="#b97616" stroke-width="1.6"/>
<line x1="171.85" y1="411.8" x2="171.85" y2="417.1" stroke="#000" stroke-width="1.5"/>
<text transform="translate(177.15,422.40) rotate(-90)" text-anchor="end" font-family='"Liberation Sans", sans-serif' font-size="10.1" fill="#222" stroke="#222" stroke-width="0.22">CD34<tspan dy="-3.7" font-size="7" font-weight="bold">+</tspan><tspan dy="3.7">CD38</tspan><tspan dy="-3.7" font-size="7" font-weight="bold">+</tspan></text>
<polygon points="171.85,335.24 172.50,336.19 173.61,336.52 172.91,337.44 172.94,338.59 171.85,338.20 170.76,338.59 170.79,337.44 170.09,336.52 171.20,336.19" fill="#222"/>
<rect x="178.85" y="362.96" width="8.00" height="48.84" fill="#e2901c" stroke="#a26714" stroke-width="0.7"/>
<line x1="182.85" y1="362.96" x2="182.85" y2="360.60" stroke="#b97616" stroke-width="1.6"/>
<line x1="180.05" y1="360.60" x2="185.65" y2="360.60" stroke="#b97616" stroke-width="1.6"/>
<line x1="182.85" y1="411.8" x2="182.85" y2="417.1" stroke="#000" stroke-width="1.5"/>
<text transform="translate(188.15,421.80) rotate(-90)" text-anchor="end" font-family='"Liberation Sans", sans-serif' font-size="10.1" fill="#222" stroke="#222" stroke-width="0.22">CD34<tspan dy="-3.7" font-size="7" font-weight="bold">+</tspan><tspan dy="3.7">CD38</tspan><tspan dy="-3.7" font-size="7" font-weight="bold">-</tspan></text>
<polygon points="182.85,354.25 183.50,355.20 184.61,355.53 183.91,356.44 183.94,357.60 182.85,357.21 181.76,357.60 181.79,356.44 181.09,355.53 182.20,355.20" fill="#222"/>
<rect x="194.85" y="405.97" width="8.00" height="5.83" fill="#2d6b4f" stroke="#204d38" stroke-width="0.7"/>
<line x1="198.85" y1="405.97" x2="198.85" y2="404.59" stroke="#245740" stroke-width="1.6"/>
<line x1="196.05" y1="404.59" x2="201.65" y2="404.59" stroke="#245740" stroke-width="1.6"/>
<line x1="198.85" y1="411.8" x2="198.85" y2="417.1" stroke="#000" stroke-width="1.5"/>
<text transform="translate(204.15,422.40) rotate(-90)" text-anchor="end" font-family='"Liberation Sans", sans-serif' font-size="10.1" fill="#222" stroke="#222" stroke-width="0.22">CD34<tspan dy="-3.7" font-size="7" font-weight="bold">+</tspan><tspan dy="3.7">CD38</tspan><tspan dy="-3.7" font-size="7" font-weight="bold">+</tspan></text>
<polygon points="194.25,398.24 194.90,399.19 196.01,399.51 195.31,400.43 195.34,401.58 194.25,401.20 193.16,401.58 193.19,400.43 192.49,399.51 193.60,399.19" fill="#222"/><polygon points="198.85,398.24 199.50,399.19 200.61,399.51 199.91,400.43 199.94,401.58 198.85,401.20 197.76,401.58 197.79,400.43 197.09,399.51 198.20,399.19" fill="#222"/><polygon points="203.45,398.24 204.10,399.19 205.21,399.51 204.51,400.43 204.54,401.58 203.45,401.20 202.36,401.58 202.39,400.43 201.69,399.51 202.80,399.19" fill="#222"/>
<rect x="205.85" y="401.39" width="8.00" height="10.41" fill="#2d6b4f" stroke="#204d38" stroke-width="0.7"/>
<line x1="209.85" y1="401.39" x2="209.85" y2="400.01" stroke="#245740" stroke-width="1.6"/>
<line x1="207.05" y1="400.01" x2="212.65" y2="400.01" stroke="#245740" stroke-width="1.6"/>
<line x1="209.85" y1="411.8" x2="209.85" y2="417.1" stroke="#000" stroke-width="1.5"/>
<text transform="translate(215.15,421.80) rotate(-90)" text-anchor="end" font-family='"Liberation Sans", sans-serif' font-size="10.1" fill="#222" stroke="#222" stroke-width="0.22">CD34<tspan dy="-3.7" font-size="7" font-weight="bold">+</tspan><tspan dy="3.7">CD38</tspan><tspan dy="-3.7" font-size="7" font-weight="bold">-</tspan></text>
<polygon points="207.55,393.66 208.20,394.61 209.31,394.93 208.61,395.85 208.64,397.00 207.55,396.62 206.46,397.00 206.49,395.85 205.79,394.93 206.90,394.61" fill="#222"/><polygon points="212.15,393.66 212.80,394.61 213.91,394.93 213.21,395.85 213.24,397.00 212.15,396.62 211.06,397.00 211.09,395.85 210.39,394.93 211.50,394.61" fill="#222"/>
<rect x="221.85" y="396.68" width="8.00" height="15.12" fill="#9790c6" stroke="#6c678e" stroke-width="0.7"/>
<line x1="225.85" y1="396.68" x2="225.85" y2="395.29" stroke="#7b76a2" stroke-width="1.6"/>
<line x1="223.05" y1="395.29" x2="228.65" y2="395.29" stroke="#7b76a2" stroke-width="1.6"/>
<line x1="225.85" y1="411.8" x2="225.85" y2="417.1" stroke="#000" stroke-width="1.5"/>
<text transform="translate(231.15,422.40) rotate(-90)" text-anchor="end" font-family='"Liberation Sans", sans-serif' font-size="10.1" fill="#222" stroke="#222" stroke-width="0.22">CD34<tspan dy="-3.7" font-size="7" font-weight="bold">+</tspan><tspan dy="3.7">CD38</tspan><tspan dy="-3.7" font-size="7" font-weight="bold">+</tspan></text>
<polygon points="223.55,388.94 224.20,389.89 225.31,390.22 224.61,391.13 224.64,392.29 223.55,391.90 222.46,392.29 222.49,391.13 221.79,390.22 222.90,389.89" fill="#222"/><polygon points="228.15,388.94 228.80,389.89 229.91,390.22 229.21,391.13 229.24,392.29 228.15,391.90 227.06,392.29 227.09,391.13 226.39,390.22 227.50,389.89" fill="#222"/>
<rect x="232.85" y="403.61" width="8.00" height="8.19" fill="#9790c6" stroke="#6c678e" stroke-width="0.7"/>
<line x1="234.05" y1="402.92" x2="239.65" y2="402.92" stroke="#7b76a2" stroke-width="1.6"/>
<line x1="236.85" y1="411.8" x2="236.85" y2="417.1" stroke="#000" stroke-width="1.5"/>
<text transform="translate(242.15,421.80) rotate(-90)" text-anchor="end" font-family='"Liberation Sans", sans-serif' font-size="10.1" fill="#222" stroke="#222" stroke-width="0.22">CD34<tspan dy="-3.7" font-size="7" font-weight="bold">+</tspan><tspan dy="3.7">CD38</tspan><tspan dy="-3.7" font-size="7" font-weight="bold">-</tspan></text>
<polygon points="234.55,396.57 235.20,397.52 236.31,397.85 235.61,398.76 235.64,399.92 234.55,399.53 233.46,399.92 233.49,398.76 232.79,397.85 233.90,397.52" fill="#222"/><polygon points="239.15,396.57 239.80,397.52 240.91,397.85 240.21,398.76 240.24,399.92 239.15,399.53 238.06,399.92 238.09,398.76 237.39,397.85 238.50,397.52" fill="#222"/>
<line x1="91.5" y1="312.3" x2="226.9" y2="312.3" stroke="#000" stroke-width="1.8"/>
<line x1="91.5" y1="309.0" x2="91.5" y2="315.6" stroke="#000" stroke-width="1.8"/>
<line x1="226.9" y1="309.0" x2="226.9" y2="315.6" stroke="#000" stroke-width="1.8"/>
<polygon points="152.50,305.95 153.15,306.90 154.26,307.23 153.56,308.14 153.59,309.30 152.50,308.91 151.41,309.30 151.44,308.14 150.74,307.23 151.85,306.90" fill="#222"/><polygon points="157.10,305.95 157.75,306.90 158.86,307.23 158.16,308.14 158.19,309.30 157.10,308.91 156.01,309.30 156.04,308.14 155.34,307.23 156.45,306.90" fill="#222"/>
<line x1="101.3" y1="322.8" x2="237.1" y2="322.8" stroke="#000" stroke-width="1.8"/>
<line x1="101.3" y1="319.5" x2="101.3" y2="326.1" stroke="#000" stroke-width="1.8"/>
<line x1="237.1" y1="319.5" x2="237.1" y2="326.1" stroke="#000" stroke-width="1.8"/>
<polygon points="168.70,316.45 169.35,317.40 170.46,317.73 169.76,318.64 169.79,319.80 168.70,319.41 167.61,319.80 167.64,318.64 166.94,317.73 168.05,317.40" fill="#222"/><polygon points="173.30,316.45 173.95,317.40 175.06,317.73 174.36,318.64 174.39,319.80 173.30,319.41 172.21,319.80 172.24,318.64 171.54,317.73 172.65,317.40" fill="#222"/>
<text x="413" y="281.3" text-anchor="middle" font-family='"Liberation Sans", sans-serif' font-weight="bold" font-size="10.7" fill="#111" textLength="109.5" lengthAdjust="spacingAndGlyphs">BCR-ABL1<tspan dy="-4.2" font-size="8">+</tspan><tspan dy="4.2"> BCP-ALL</tspan></text>
<text transform="translate(291.5,288.2) rotate(-90)" text-anchor="end" font-family='"Liberation Sans", sans-serif' font-size="13.6" fill="#333" textLength="130.7" lengthAdjust="spacingAndGlyphs">Colony number per 10<tspan dy="-4.8" dx="0.6" font-size="10.5">3</tspan><tspan dy="4.8"> cells</tspan></text>
<line x1="318.4" y1="294.2" x2="318.4" y2="410.84999999999997" stroke="#000" stroke-width="1.9"/>
<line x1="317.45" y1="409.9" x2="507.6" y2="409.9" stroke="#000" stroke-width="1.9"/>
<line x1="313.59999999999997" y1="409.90" x2="318.4" y2="409.90" stroke="#000" stroke-width="1.9"/>
<text x="308.80" y="413.20" text-anchor="end" font-family='"Liberation Sans", sans-serif' font-size="10.2" fill="#333" transform="translate(308.80,0) scale(0.93,1) translate(-308.80,0)">0</text>
<line x1="313.59999999999997" y1="373.03" x2="318.4" y2="373.03" stroke="#000" stroke-width="1.9"/>
<text x="308.80" y="376.33" text-anchor="end" font-family='"Liberation Sans", sans-serif' font-size="10.2" fill="#333" transform="translate(308.80,0) scale(0.93,1) translate(-308.80,0)">20</text>
<line x1="313.59999999999997" y1="336.17" x2="318.4" y2="336.17" stroke="#000" stroke-width="1.9"/>
<text x="308.80" y="339.47" text-anchor="end" font-family='"Liberation Sans", sans-serif' font-size="10.2" fill="#333" transform="translate(308.80,0) scale(0.93,1) translate(-308.80,0)">40</text>
<line x1="313.59999999999997" y1="299.30" x2="318.4" y2="299.30" stroke="#000" stroke-width="1.9"/>
<text x="308.80" y="302.60" text-anchor="end" font-family='"Liberation Sans", sans-serif' font-size="10.2" fill="#333" transform="translate(308.80,0) scale(0.93,1) translate(-308.80,0)">60</text>
<rect x="322.85" y="317.55" width="8.00" height="92.35" fill="#aa0430" stroke="#7a0222" stroke-width="0.7"/>
<line x1="326.85" y1="317.55" x2="326.85" y2="313.12" stroke="#8b0327" stroke-width="1.6"/>
<line x1="324.05" y1="313.12" x2="329.65" y2="313.12" stroke="#8b0327" stroke-width="1.6"/>
<line x1="326.85" y1="409.9" x2="326.85" y2="415.2" stroke="#000" stroke-width="1.5"/>
<text transform="translate(332.15,422.80) rotate(-90)" text-anchor="end" font-family='"Liberation Sans", sans-serif' font-size="10.1" fill="#222" stroke="#222" stroke-width="0.22">CD34<tspan dy="-3.7" font-size="7" font-weight="bold">+</tspan><tspan dy="3.7">CD38</tspan><tspan dy="-3.7" font-size="7" font-weight="bold">+</tspan></text>
<rect x="333.85" y="337.27" width="8.00" height="72.63" fill="#aa0430" stroke="#7a0222" stroke-width="0.7"/>
<line x1="337.85" y1="337.27" x2="337.85" y2="331.93" stroke="#8b0327" stroke-width="1.6"/>
<line x1="335.05" y1="331.93" x2="340.65" y2="331.93" stroke="#8b0327" stroke-width="1.6"/>
<line x1="337.85" y1="409.9" x2="337.85" y2="415.2" stroke="#000" stroke-width="1.5"/>
<text transform="translate(343.15,422.20) rotate(-90)" text-anchor="end" font-family='"Liberation Sans", sans-serif' font-size="10.1" fill="#222" stroke="#222" stroke-width="0.22">CD34<tspan dy="-3.7" font-size="7" font-weight="bold">+</tspan><tspan dy="3.7">CD38</tspan><tspan dy="-3.7" font-size="7" font-weight="bold">-</tspan></text>
<rect x="349.85" y="331.93" width="8.00" height="77.97" fill="#2d4d89" stroke="#203762" stroke-width="0.7"/>
<line x1="353.85" y1="331.93" x2="353.85" y2="328.42" stroke="#243f70" stroke-width="1.6"/>
<line x1="351.05" y1="328.42" x2="356.65" y2="328.42" stroke="#243f70" stroke-width="1.6"/>
<line x1="353.85" y1="409.9" x2="353.85" y2="415.2" stroke="#000" stroke-width="1.5"/>
<text transform="translate(359.15,422.80) rotate(-90)" text-anchor="end" font-family='"Liberation Sans", sans-serif' font-size="10.1" fill="#222" stroke="#222" stroke-width="0.22">CD34<tspan dy="-3.7" font-size="7" font-weight="bold">+</tspan><tspan dy="3.7">CD38</tspan><tspan dy="-3.7" font-size="7" font-weight="bold">+</tspan></text>
<rect x="360.85" y="349.62" width="8.00" height="60.28" fill="#2d4d89" stroke="#203762" stroke-width="0.7"/>
<line x1="364.85" y1="349.62" x2="364.85" y2="346.12" stroke="#243f70" stroke-width="1.6"/>
<line x1="362.05" y1="346.12" x2="367.65" y2="346.12" stroke="#243f70" stroke-width="1.6"/>
<line x1="364.85" y1="409.9" x2="364.85" y2="415.2" stroke="#000" stroke-width="1.5"/>
<text transform="translate(370.15,422.20) rotate(-90)" text-anchor="end" font-family='"Liberation Sans", sans-serif' font-size="10.1" fill="#222" stroke="#222" stroke-width="0.22">CD34<tspan dy="-3.7" font-size="7" font-weight="bold">+</tspan><tspan dy="3.7">CD38</tspan><tspan dy="-3.7" font-size="7" font-weight="bold">-</tspan></text>
<rect x="376.85" y="361.42" width="8.00" height="48.48" fill="#6aab3e" stroke="#4c7b2c" stroke-width="0.7"/>
<line x1="380.85" y1="361.42" x2="380.85" y2="358.84" stroke="#568c32" stroke-width="1.6"/>
<line x1="378.05" y1="358.84" x2="383.65" y2="358.84" stroke="#568c32" stroke-width="1.6"/>
<line x1="380.85" y1="409.9" x2="380.85" y2="415.2" stroke="#000" stroke-width="1.5"/>
<text transform="translate(386.15,422.80) rotate(-90)" text-anchor="end" font-family='"Liberation Sans", sans-serif' font-size="10.1" fill="#222" stroke="#222" stroke-width="0.22">CD34<tspan dy="-3.7" font-size="7" font-weight="bold">+</tspan><tspan dy="3.7">CD38</tspan><tspan dy="-3.7" font-size="7" font-weight="bold">+</tspan></text>
<polygon points="380.85,352.49 381.50,353.44 382.61,353.77 381.91,354.68 381.94,355.84 380.85,355.45 379.76,355.84 379.79,354.68 379.09,353.77 380.20,353.44" fill="#222"/>
<rect x="387.85" y="369.53" width="8.00" height="40.37" fill="#6aab3e" stroke="#4c7b2c" stroke-width="0.7"/>
<line x1="391.85" y1="369.53" x2="391.85" y2="363.82" stroke="#568c32" stroke-width="1.6"/>
<line x1="389.05" y1="363.82" x2="394.65" y2="363.82" stroke="#568c32" stroke-width="1.6"/>
<line x1="391.85" y1="409.9" x2="391.85" y2="415.2" stroke="#000" stroke-width="1.5"/>
<text transform="translate(397.15,422.20) rotate(-90)" text-anchor="end" font-family='"Liberation Sans", sans-serif' font-size="10.1" fill="#222" stroke="#222" stroke-width="0.22">CD34<tspan dy="-3.7" font-size="7" font-weight="bold">+</tspan><tspan dy="3.7">CD38</tspan><tspan dy="-3.7" font-size="7" font-weight="bold">-</tspan></text>
<polygon points="391.85,357.47 392.50,358.42 393.61,358.74 392.91,359.66 392.94,360.81 391.85,360.43 390.76,360.81 390.79,359.66 390.09,358.74 391.20,358.42" fill="#222"/>
<rect x="403.85" y="350.73" width="8.00" height="59.17" fill="#5a216c" stroke="#40174d" stroke-width="0.7"/>
<line x1="407.85" y1="350.73" x2="407.85" y2="347.78" stroke="#491b58" stroke-width="1.6"/>
<line x1="405.05" y1="347.78" x2="410.65" y2="347.78" stroke="#491b58" stroke-width="1.6"/>
<line x1="407.85" y1="409.9" x2="407.85" y2="415.2" stroke="#000" stroke-width="1.5"/>
<text transform="translate(413.15,422.80) rotate(-90)" text-anchor="end" font-family='"Liberation Sans", sans-serif' font-size="10.1" fill="#222" stroke="#222" stroke-width="0.22">CD34<tspan dy="-3.7" font-size="7" font-weight="bold">+</tspan><tspan dy="3.7">CD38</tspan><tspan dy="-3.7" font-size="7" font-weight="bold">+</tspan></text>
<polygon points="407.85,341.43 408.50,342.38 409.61,342.71 408.91,343.62 408.94,344.78 407.85,344.39 406.76,344.78 406.79,343.62 406.09,342.71 407.20,342.38" fill="#222"/>
<rect x="414.85" y="344.83" width="8.00" height="65.07" fill="#5a216c" stroke="#40174d" stroke-width="0.7"/>
<line x1="418.85" y1="344.83" x2="418.85" y2="340.96" stroke="#491b58" stroke-width="1.6"/>
<line x1="416.05" y1="340.96" x2="421.65" y2="340.96" stroke="#491b58" stroke-width="1.6"/>
<line x1="418.85" y1="409.9" x2="418.85" y2="415.2" stroke="#000" stroke-width="1.5"/>
<text transform="translate(424.15,422.20) rotate(-90)" text-anchor="end" font-family='"Liberation Sans", sans-serif' font-size="10.1" fill="#222" stroke="#222" stroke-width="0.22">CD34<tspan dy="-3.7" font-size="7" font-weight="bold">+</tspan><tspan dy="3.7">CD38</tspan><tspan dy="-3.7" font-size="7" font-weight="bold">-</tspan></text>
<rect x="430.85" y="358.84" width="8.00" height="51.06" fill="#e2901c" stroke="#a26714" stroke-width="0.7"/>
<line x1="434.85" y1="358.84" x2="434.85" y2="351.65" stroke="#b97616" stroke-width="1.6"/>
<line x1="432.05" y1="351.65" x2="437.65" y2="351.65" stroke="#b97616" stroke-width="1.6"/>
<line x1="434.85" y1="409.9" x2="434.85" y2="415.2" stroke="#000" stroke-width="1.5"/>
<text transform="translate(440.15,422.80) rotate(-90)" text-anchor="end" font-family='"Liberation Sans", sans-serif' font-size="10.1" fill="#222" stroke="#222" stroke-width="0.22">CD34<tspan dy="-3.7" font-size="7" font-weight="bold">+</tspan><tspan dy="3.7">CD38</tspan><tspan dy="-3.7" font-size="7" font-weight="bold">+</tspan></text>
<rect x="441.85" y="364.74" width="8.00" height="45.16" fill="#e2901c" stroke="#a26714" stroke-width="0.7"/>
<line x1="445.85" y1="364.74" x2="445.85" y2="359.02" stroke="#b97616" stroke-width="1.6"/>
<line x1="443.05" y1="359.02" x2="448.65" y2="359.02" stroke="#b97616" stroke-width="1.6"/>
<line x1="445.85" y1="409.9" x2="445.85" y2="415.2" stroke="#000" stroke-width="1.5"/>
<text transform="translate(451.15,422.20) rotate(-90)" text-anchor="end" font-family='"Liberation Sans", sans-serif' font-size="10.1" fill="#222" stroke="#222" stroke-width="0.22">CD34<tspan dy="-3.7" font-size="7" font-weight="bold">+</tspan><tspan dy="3.7">CD38</tspan><tspan dy="-3.7" font-size="7" font-weight="bold">-</tspan></text>
<polygon points="445.85,352.67 446.50,353.63 447.61,353.95 446.91,354.87 446.94,356.02 445.85,355.63 444.76,356.02 444.79,354.87 444.09,353.95 445.20,353.63" fill="#222"/>
<rect x="457.85" y="401.42" width="8.00" height="8.48" fill="#2d6b4f" stroke="#204d38" stroke-width="0.7"/>
<line x1="461.85" y1="401.42" x2="461.85" y2="400.50" stroke="#245740" stroke-width="1.6"/>
<line x1="459.05" y1="400.50" x2="464.65" y2="400.50" stroke="#245740" stroke-width="1.6"/>
<line x1="461.85" y1="409.9" x2="461.85" y2="415.2" stroke="#000" stroke-width="1.5"/>
<text transform="translate(467.15,422.80) rotate(-90)" text-anchor="end" font-family='"Liberation Sans", sans-serif' font-size="10.1" fill="#222" stroke="#222" stroke-width="0.22">CD34<tspan dy="-3.7" font-size="7" font-weight="bold">+</tspan><tspan dy="3.7">CD38</tspan><tspan dy="-3.7" font-size="7" font-weight="bold">+</tspan></text>
<polygon points="459.55,394.15 460.20,395.10 461.31,395.43 460.61,396.34 460.64,397.50 459.55,397.11 458.46,397.50 458.49,396.34 457.79,395.43 458.90,395.10" fill="#222"/><polygon points="464.15,394.15 464.80,395.10 465.91,395.43 465.21,396.34 465.24,397.50 464.15,397.11 463.06,397.50 463.09,396.34 462.39,395.43 463.50,395.10" fill="#222"/>
<rect x="468.85" y="401.42" width="8.00" height="8.48" fill="#2d6b4f" stroke="#204d38" stroke-width="0.7"/>
<line x1="472.85" y1="401.42" x2="472.85" y2="400.50" stroke="#245740" stroke-width="1.6"/>
<line x1="470.05" y1="400.50" x2="475.65" y2="400.50" stroke="#245740" stroke-width="1.6"/>
<line x1="472.85" y1="409.9" x2="472.85" y2="415.2" stroke="#000" stroke-width="1.5"/>
<text transform="translate(478.15,422.20) rotate(-90)" text-anchor="end" font-family='"Liberation Sans", sans-serif' font-size="10.1" fill="#222" stroke="#222" stroke-width="0.22">CD34<tspan dy="-3.7" font-size="7" font-weight="bold">+</tspan><tspan dy="3.7">CD38</tspan><tspan dy="-3.7" font-size="7" font-weight="bold">-</tspan></text>
<polygon points="470.55,394.15 471.20,395.10 472.31,395.43 471.61,396.34 471.64,397.50 470.55,397.11 469.46,397.50 469.49,396.34 468.79,395.43 469.90,395.10" fill="#222"/><polygon points="475.15,394.15 475.80,395.10 476.91,395.43 476.21,396.34 476.24,397.50 475.15,397.11 474.06,397.50 474.09,396.34 473.39,395.43 474.50,395.10" fill="#222"/>
<rect x="484.85" y="368.43" width="8.00" height="41.47" fill="#9790c6" stroke="#6c678e" stroke-width="0.7"/>
<line x1="488.85" y1="368.43" x2="488.85" y2="365.48" stroke="#7b76a2" stroke-width="1.6"/>
<line x1="486.05" y1="365.48" x2="491.65" y2="365.48" stroke="#7b76a2" stroke-width="1.6"/>
<line x1="488.85" y1="409.9" x2="488.85" y2="415.2" stroke="#000" stroke-width="1.5"/>
<text transform="translate(494.15,422.80) rotate(-90)" text-anchor="end" font-family='"Liberation Sans", sans-serif' font-size="10.1" fill="#222" stroke="#222" stroke-width="0.22">CD34<tspan dy="-3.7" font-size="7" font-weight="bold">+</tspan><tspan dy="3.7">CD38</tspan><tspan dy="-3.7" font-size="7" font-weight="bold">+</tspan></text>
<polygon points="486.55,359.13 487.20,360.08 488.31,360.40 487.61,361.32 487.64,362.47 486.55,362.09 485.46,362.47 485.49,361.32 484.79,360.40 485.90,360.08" fill="#222"/><polygon points="491.15,359.13 491.80,360.08 492.91,360.40 492.21,361.32 492.24,362.47 491.15,362.09 490.06,362.47 490.09,361.32 489.39,360.40 490.50,360.08" fill="#222"/>
<rect x="495.85" y="374.51" width="8.00" height="35.39" fill="#9790c6" stroke="#6c678e" stroke-width="0.7"/>
<line x1="499.85" y1="374.51" x2="499.85" y2="367.87" stroke="#7b76a2" stroke-width="1.6"/>
<line x1="497.05" y1="367.87" x2="502.65" y2="367.87" stroke="#7b76a2" stroke-width="1.6"/>
<line x1="499.85" y1="409.9" x2="499.85" y2="415.2" stroke="#000" stroke-width="1.5"/>
<text transform="translate(505.15,422.20) rotate(-90)" text-anchor="end" font-family='"Liberation Sans", sans-serif' font-size="10.1" fill="#222" stroke="#222" stroke-width="0.22">CD34<tspan dy="-3.7" font-size="7" font-weight="bold">+</tspan><tspan dy="3.7">CD38</tspan><tspan dy="-3.7" font-size="7" font-weight="bold">-</tspan></text>
<polygon points="497.55,361.52 498.20,362.47 499.31,362.80 498.61,363.72 498.64,364.87 497.55,364.48 496.46,364.87 496.49,363.72 495.79,362.80 496.90,362.47" fill="#222"/><polygon points="502.15,361.52 502.80,362.47 503.91,362.80 503.21,363.72 503.24,364.87 502.15,364.48 501.06,364.87 501.09,363.72 500.39,362.80 501.50,362.47" fill="#222"/>
<line x1="354.5" y1="310.3" x2="490.7" y2="310.3" stroke="#000" stroke-width="1.8"/>
<line x1="354.5" y1="307.0" x2="354.5" y2="313.6" stroke="#000" stroke-width="1.8"/>
<line x1="490.7" y1="307.0" x2="490.7" y2="313.6" stroke="#000" stroke-width="1.8"/>
<polygon points="420.00,303.95 420.65,304.90 421.76,305.23 421.06,306.14 421.09,307.30 420.00,306.91 418.91,307.30 418.94,306.14 418.24,305.23 419.35,304.90" fill="#222"/>
<line x1="365.0" y1="321.5" x2="500.5" y2="321.5" stroke="#000" stroke-width="1.8"/>
<line x1="365.0" y1="318.2" x2="365.0" y2="324.8" stroke="#000" stroke-width="1.8"/>
<line x1="500.5" y1="318.2" x2="500.5" y2="324.8" stroke="#000" stroke-width="1.8"/>
<polygon points="427.20,315.15 427.85,316.10 428.96,316.43 428.26,317.34 428.29,318.50 427.20,318.11 426.11,318.50 426.14,317.34 425.44,316.43 426.55,316.10" fill="#222"/><polygon points="431.80,315.15 432.45,316.10 433.56,316.43 432.86,317.34 432.89,318.50 431.80,318.11 430.71,318.50 430.74,317.34 430.04,316.43 431.15,316.10" fill="#222"/>
<rect x="95.8" y="505.2" width="13.2" height="7.2" fill="#aa0430"/>
<text x="113.40" y="511.9" font-family='"Liberation Sans", sans-serif' font-size="10.3" fill="#2a2a2a" textLength="30.10" lengthAdjust="spacingAndGlyphs">DMSO</text>
<rect x="166.5" y="505.2" width="13.2" height="7.2" fill="#2d4d89"/>
<text x="184.20" y="511.9" font-family='"Liberation Sans", sans-serif' font-size="10.3" fill="#2a2a2a" textLength="36.60" lengthAdjust="spacingAndGlyphs">6μM AX</text>
<rect x="243.3" y="505.2" width="13.2" height="7.2" fill="#6aab3e"/>
<text x="261.80" y="511.9" font-family='"Liberation Sans", sans-serif' font-size="10.3" fill="#2a2a2a" textLength="40.90" lengthAdjust="spacingAndGlyphs">12μM AX</text>
<rect x="326.2" y="505.2" width="13.2" height="7.2" fill="#5a216c"/>
<text x="343.60" y="511.9" font-family='"Liberation Sans", sans-serif' font-size="10.3" fill="#2a2a2a" textLength="34.30" lengthAdjust="spacingAndGlyphs">1μM IM</text>
<rect x="401.2" y="505.2" width="13.2" height="7.2" fill="#e2901c"/>
<text x="418.20" y="511.9" font-family='"Liberation Sans", sans-serif' font-size="10.3" fill="#2a2a2a" textLength="48.40" lengthAdjust="spacingAndGlyphs">0.3mM NB</text>
<rect x="143.0" y="525.7" width="13.2" height="7.2" fill="#2d6b4f"/>
<text x="160.20" y="532.6" font-family='"Liberation Sans", sans-serif' font-size="10.3" fill="#2a2a2a" textLength="65.20" lengthAdjust="spacingAndGlyphs">20nM AUY922</text>
<rect x="251.0" y="525.7" width="13.2" height="7.2" fill="#9790c6"/>
<text x="268.40" y="532.6" font-family='"Liberation Sans", sans-serif' font-size="10.3" fill="#2a2a2a" textLength="93.80" lengthAdjust="spacingAndGlyphs">6μM AX + 500nM IM</text>
</svg>
</body></html>
